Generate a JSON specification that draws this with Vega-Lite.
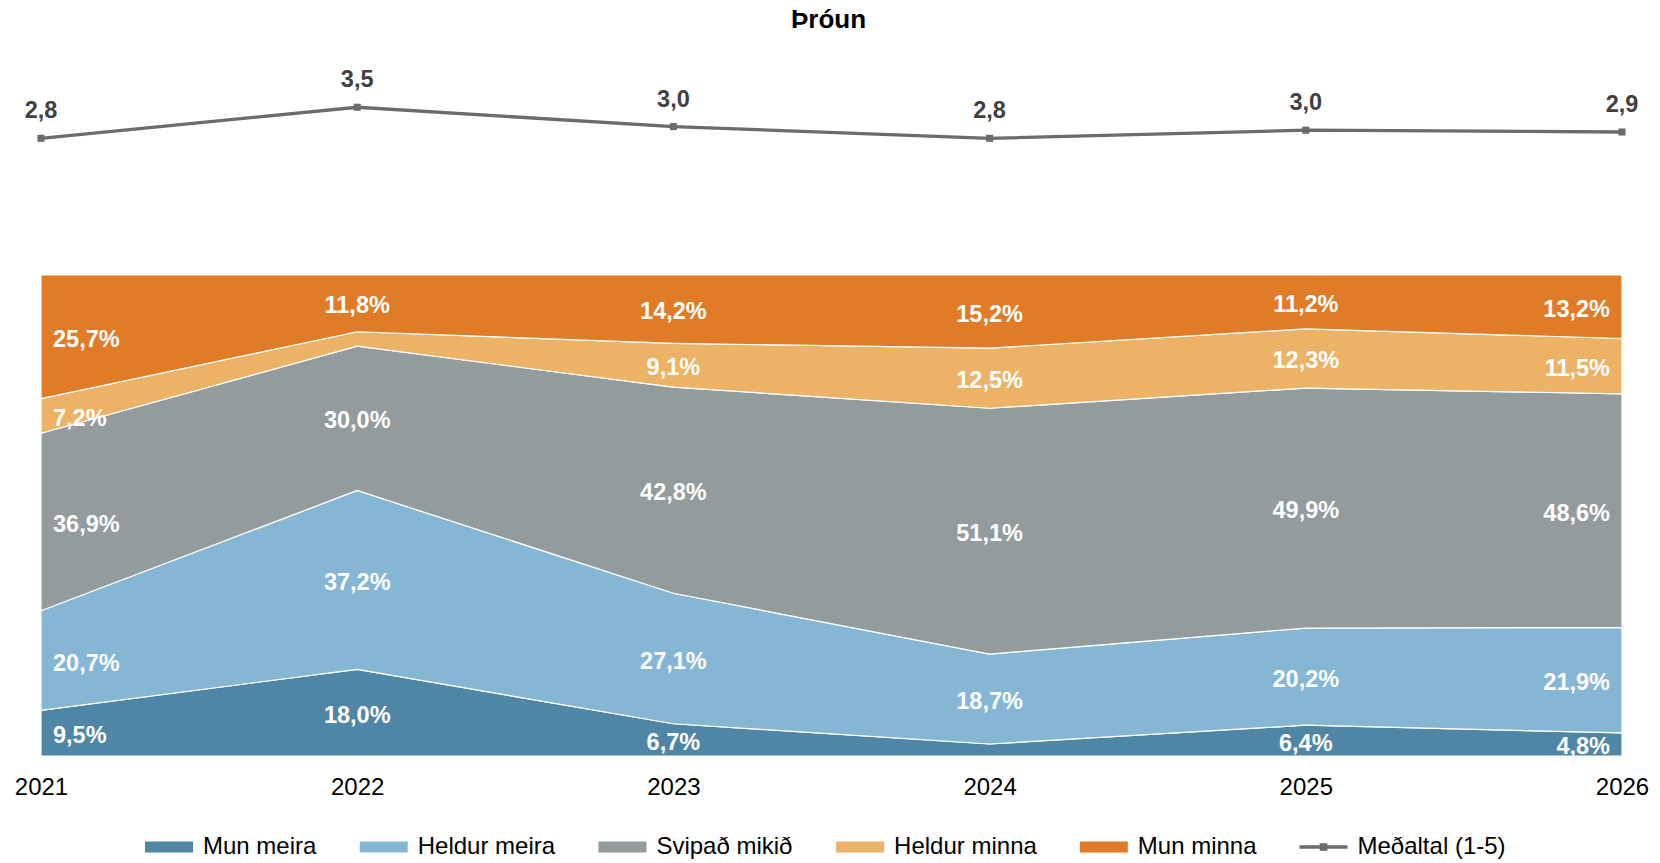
{
  "$schema": "https://vega.github.io/schema/vega-lite/v6.json",
  "width": 1581,
  "height": 696,
  "autosize": "none",
  "padding": {"left": 41, "top": 60, "right": 38, "bottom": 107},
  "background": "white",
  "config": {
    "view": {"stroke": null},
    "font": "Liberation Sans",
    "locale": {"number": {"decimal": ",", "thousands": ".", "grouping": [3], "currency": ["", " kr."]}}
  },
  "title": {"text": "Þróun", "fontSize": 26, "fontWeight": "bold", "color": "#000000", "anchor": "middle", "offset": 27, "dx": -3, "font": "Liberation Sans"},
  "datasets": {
    "shares": [
      {"year": 2021, "cat": "Mun meira", "k": 1, "pct": 0.095},
      {"year": 2021, "cat": "Heldur meira", "k": 2, "pct": 0.207},
      {"year": 2021, "cat": "Svipað mikið", "k": 3, "pct": 0.369},
      {"year": 2021, "cat": "Heldur minna", "k": 4, "pct": 0.072},
      {"year": 2021, "cat": "Mun minna", "k": 5, "pct": 0.257},
      {"year": 2022, "cat": "Mun meira", "k": 1, "pct": 0.180},
      {"year": 2022, "cat": "Heldur meira", "k": 2, "pct": 0.372},
      {"year": 2022, "cat": "Svipað mikið", "k": 3, "pct": 0.300},
      {"year": 2022, "cat": "Heldur minna", "k": 4, "pct": 0.030},
      {"year": 2022, "cat": "Mun minna", "k": 5, "pct": 0.118},
      {"year": 2023, "cat": "Mun meira", "k": 1, "pct": 0.067},
      {"year": 2023, "cat": "Heldur meira", "k": 2, "pct": 0.271},
      {"year": 2023, "cat": "Svipað mikið", "k": 3, "pct": 0.428},
      {"year": 2023, "cat": "Heldur minna", "k": 4, "pct": 0.091},
      {"year": 2023, "cat": "Mun minna", "k": 5, "pct": 0.142},
      {"year": 2024, "cat": "Mun meira", "k": 1, "pct": 0.025},
      {"year": 2024, "cat": "Heldur meira", "k": 2, "pct": 0.187},
      {"year": 2024, "cat": "Svipað mikið", "k": 3, "pct": 0.511},
      {"year": 2024, "cat": "Heldur minna", "k": 4, "pct": 0.125},
      {"year": 2024, "cat": "Mun minna", "k": 5, "pct": 0.152},
      {"year": 2025, "cat": "Mun meira", "k": 1, "pct": 0.064},
      {"year": 2025, "cat": "Heldur meira", "k": 2, "pct": 0.202},
      {"year": 2025, "cat": "Svipað mikið", "k": 3, "pct": 0.499},
      {"year": 2025, "cat": "Heldur minna", "k": 4, "pct": 0.123},
      {"year": 2025, "cat": "Mun minna", "k": 5, "pct": 0.112},
      {"year": 2026, "cat": "Mun meira", "k": 1, "pct": 0.048},
      {"year": 2026, "cat": "Heldur meira", "k": 2, "pct": 0.219},
      {"year": 2026, "cat": "Svipað mikið", "k": 3, "pct": 0.486},
      {"year": 2026, "cat": "Heldur minna", "k": 4, "pct": 0.115},
      {"year": 2026, "cat": "Mun minna", "k": 5, "pct": 0.132}
    ],
    "avg": [
      {"year": 2021, "cat": "Meðaltal (1-5)", "v": 2.78},
      {"year": 2022, "cat": "Meðaltal (1-5)", "v": 3.47},
      {"year": 2023, "cat": "Meðaltal (1-5)", "v": 3.04},
      {"year": 2024, "cat": "Meðaltal (1-5)", "v": 2.78},
      {"year": 2025, "cat": "Meðaltal (1-5)", "v": 2.96},
      {"year": 2026, "cat": "Meðaltal (1-5)", "v": 2.92}
    ]
  },
  "layer": [
    {
      "data": {"name": "shares"},
      "transform": [
        {"stack": "pct", "groupby": ["year"], "sort": [{"field": "k", "order": "ascending"}], "offset": "normalize", "as": ["y0", "y1"]}
      ],
      "mark": {"type": "area", "stroke": "white", "strokeWidth": 1.2, "opacity": 1},
      "encoding": {
        "x": {
          "field": "year", "type": "quantitative",
          "scale": {"domain": [2021, 2026], "nice": false, "zero": false},
          "axis": {"values": [2021, 2022, 2023, 2024, 2025, 2026], "format": "d", "labelFontSize": 24, "labelColor": "#000000", "labelFont": "Liberation Sans", "ticks": false, "domain": false, "grid": false, "labelPadding": 19, "title": null, "labelFlush": false, "labelOverlap": false, "labelBound": false}
        },
        "y": {"field": "y1", "type": "quantitative", "scale": {"domain": [0, 1.447], "nice": false, "zero": false}, "axis": null},
        "y2": {"field": "y0"},
        "color": {
          "field": "cat", "type": "nominal",
          "scale": {
            "domain": ["Mun meira", "Heldur meira", "Svipað mikið", "Heldur minna", "Mun minna", "Meðaltal (1-5)"],
            "range": ["#4F86A5", "#85B6D4", "#949B9C", "#ECB266", "#E07C27", "#6B6B6B"]
          },
          "legend": {
            "orient": "none", "legendX": 104, "legendY": 763, "direction": "horizontal", "columns": 6,
            "title": null, "padding": 0, "labelFontSize": 24, "labelColor": "#000000", "labelFont": "Liberation Sans",
            "labelLimit": 400, "symbolSize": 2304, "labelOffset": 10, "columnPadding": 42.7,
            "symbolType": {"expr": "datum.value === 'Meðaltal (1-5)' ? 'M-1,-0.07H1V0.07H-1Z M-0.16,-0.16H0.16V0.16H-0.16Z' : 'M-1,-0.23H1V0.23H-1Z'"},
            "symbolStrokeWidth": 0,
            "symbolOpacity": 1
          }
        }
      }
    },
    {
      "data": {"name": "shares"},
      "transform": [
        {"stack": "pct", "groupby": ["year"], "sort": [{"field": "k", "order": "ascending"}], "offset": "normalize", "as": ["y0", "y1"]},
        {"calculate": "(datum.y0 + datum.y1) / 2", "as": "mid"},
        {"filter": "datum.pct >= 0.04"}
      ],
      "mark": {
        "type": "text", "fontSize": 23.5, "fontWeight": "bold", "color": "white", "baseline": "middle", "font": "Liberation Sans", "dy": 3,
        "align": {"expr": "datum.year == 2021 ? 'left' : datum.year == 2026 ? 'right' : 'center'"},
        "dx": {"expr": "datum.year == 2021 ? 12 : datum.year == 2026 ? -12 : 0"}
      },
      "encoding": {
        "x": {"field": "year", "type": "quantitative"},
        "y": {"field": "mid", "type": "quantitative", "scale": {"domain": [0, 1.447], "nice": false, "zero": false}, "axis": null},
        "text": {"field": "pct", "type": "quantitative", "format": ".1%"}
      }
    },
    {
      "data": {"name": "avg"},
      "mark": {"type": "line", "strokeWidth": 3.3},
      "encoding": {
        "x": {"field": "year", "type": "quantitative"},
        "y": {"field": "v", "type": "quantitative", "scale": {"domain": [-10.947, 4.52], "nice": false, "zero": false}, "axis": null},
        "color": {"field": "cat", "type": "nominal", "legend": null}
      }
    },
    {
      "data": {"name": "avg"},
      "mark": {"type": "point", "shape": "square", "filled": true, "size": 50, "opacity": 1},
      "encoding": {
        "x": {"field": "year", "type": "quantitative"},
        "y": {"field": "v", "type": "quantitative", "scale": {"domain": [-10.947, 4.52], "nice": false, "zero": false}, "axis": null},
        "color": {"field": "cat", "type": "nominal", "legend": null}
      }
    },
    {
      "data": {"name": "avg"},
      "mark": {"type": "text", "fontSize": 23.5, "fontWeight": "bold", "color": "#404040", "baseline": "alphabetic", "align": "center", "dy": -20, "font": "Liberation Sans"},
      "encoding": {
        "x": {"field": "year", "type": "quantitative"},
        "y": {"field": "v", "type": "quantitative", "scale": {"domain": [-10.947, 4.52], "nice": false, "zero": false}, "axis": null},
        "text": {"field": "v", "type": "quantitative", "format": ".1f"}
      }
    }
  ],
  "resolve": {"scale": {"y": "independent"}}
}
